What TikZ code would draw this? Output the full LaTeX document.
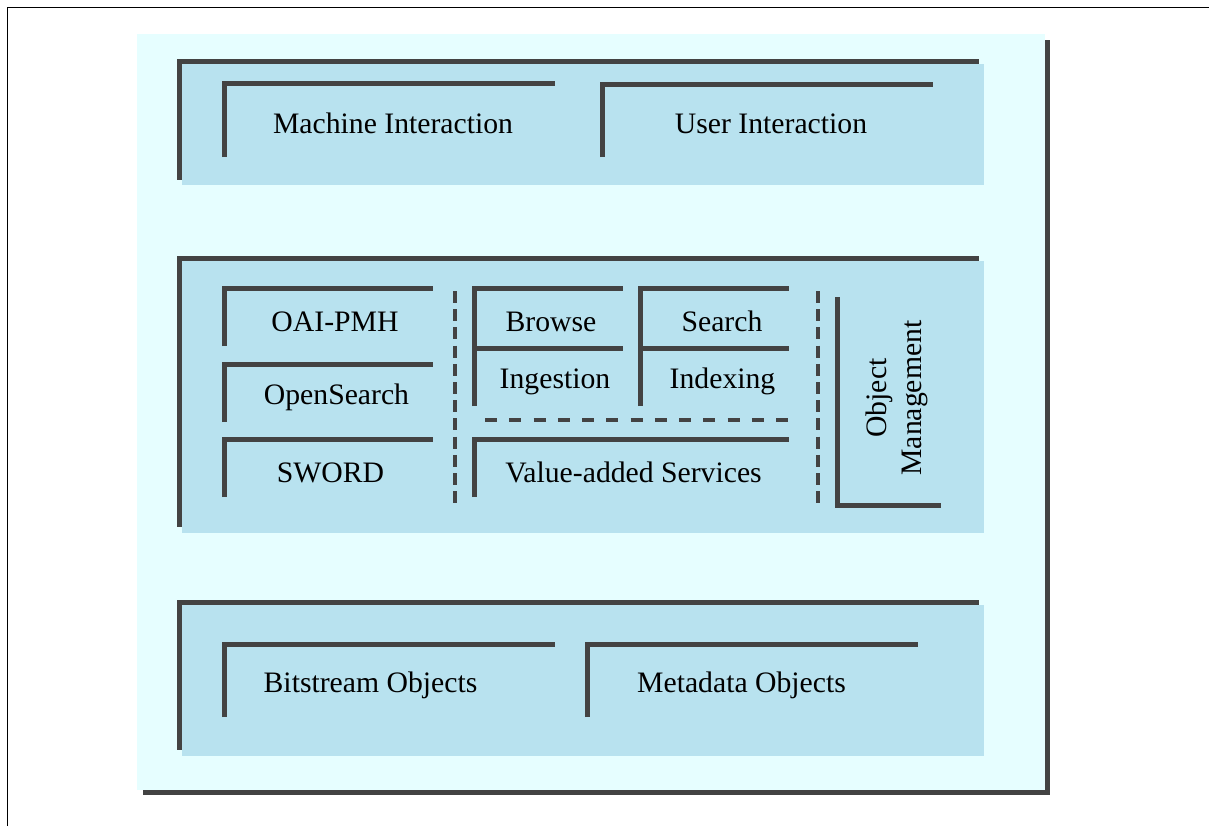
\documentclass[tikz,border=0pt]{standalone}
\usepackage{fontspec}
\setmainfont{Liberation Serif}
\definecolor{darkbar}{HTML}{434343}
\definecolor{layerblue}{HTML}{B8E2EF}
\definecolor{panelcyan}{HTML}{E6FEFF}
\tikzset{
  lbar/.style={draw=darkbar, line width=2.5pt, line cap=butt, line join=miter},
  vdash/.style={draw=darkbar, line width=2pt, dash pattern=on 6pt off 3.1pt},
  hdash/.style={draw=darkbar, line width=2.25pt, dash pattern=on 6pt off 6.125pt},
  label/.style={anchor=base, inner sep=0pt, font=\fontsize{14.85}{17.8}\selectfont, text=black},
}
\begin{document}
\begin{tikzpicture}[x=0.5pt, y=-0.5pt]
\useasboundingbox (0,0) rectangle (1209,826);
% page frame (top and left only)
\draw[black, line width=0.75pt] (7.5,826) -- (7.5,7.5) -- (1209,7.5);
% outer panel with shadow
\fill[darkbar] (143,40) rectangle (1050,795);
\fill[panelcyan] (137,34) rectangle (1045,790);
% layer 1
\fill[darkbar] (177,59) rectangle (979,180);
\fill[layerblue] (182,64) rectangle (984,185);
% layer 2
\fill[darkbar] (177,256) rectangle (979,527);
\fill[layerblue] (182,261) rectangle (984,533);
% layer 3
\fill[darkbar] (177,600) rectangle (979,750);
\fill[layerblue] (182,605) rectangle (984,756);

% layer 1 boxes
\draw[lbar] (224.5,157) |- (555,83.5);
\draw[lbar] (602.5,157) |- (933,84);
\node[label] (machine) at (393,133) {Machine Interaction};
\node[label] (user) at (771,133) {User Interaction};

% layer 2 boxes, left column
\draw[lbar] (224.5,346) |- (433,288.5);
\draw[lbar] (224.5,422) |- (433,364.5);
\draw[lbar] (224.5,497) |- (433,439.5);
\node[label] (oai) at (335,331) {OAI-PMH};
\node[label] (opensearch) at (336.5,404) {OpenSearch};
\node[label] (sword) at (330.5,482) {SWORD};

% dashed separators
\draw[vdash] (455,291) -- (455,503.2);
\draw[vdash] (818,291) -- (818,503.2);
\draw[hdash] (485,420) -- (788,420);

% middle grid
\draw[lbar] (474.5,406) |- (623,288.5);
\draw[lbar] (474.5,348.5) -- (623,348.5);
\draw[lbar] (640.5,406) |- (789,288.5);
\draw[lbar] (640.5,348.5) -- (789,348.5);
\node[label] (browse) at (551,331) {Browse};
\node[label] (search) at (722,331) {Search};
\node[label] (ingestion) at (555,388) {Ingestion};
\node[label] (indexing) at (722.5,388) {Indexing};

\draw[lbar] (474.5,497) |- (789,439.5);
\node[label] (valueadded) at (633.5,482) {Value-added Services};

% object management (rotated box)
\draw[lbar] (837.5,297) |- (941,505.5);
\node[anchor=center, inner sep=0pt, align=center, rotate=90,
      font=\fontsize{14.85}{17.8}\selectfont] (objmgmt) at (897,398) {Object\\Management};

% layer 3 boxes
\draw[lbar] (224.5,717) |- (555,644.5);
\draw[lbar] (587.5,717) |- (918,644);
\node[label] (bitstream) at (370.5,692) {Bitstream Objects};
\node[label] (metadata) at (741.5,692) {Metadata Objects};
\end{tikzpicture}
\end{document}
